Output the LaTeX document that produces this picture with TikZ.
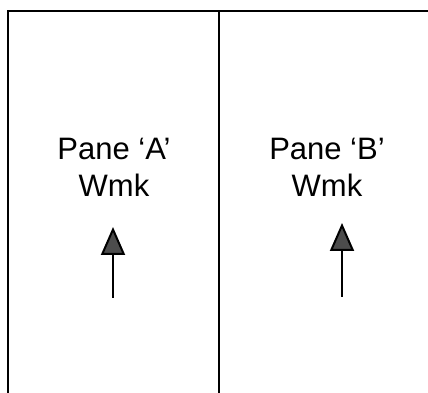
\documentclass[tikz,border=0pt]{standalone}
\usepackage{fontspec}
\setmainfont{Liberation Sans}
\usetikzlibrary{arrows.meta}

\tikzset{
  panelabel/.style={align=center, inner sep=0pt, anchor=base,
    font=\fontsize{31}{37}\selectfont},
  frameline/.style={line width=2.6pt},
  wmkarrow/.style={line width=2pt, -{Triangle[length=28pt,width=24pt,fill=black!70]}}
}

\begin{document}
\begin{tikzpicture}[x=1pt,y=1pt]
        \useasboundingbox (0,0) rectangle (428,393);

        % Rahmen
        \draw[frameline] (8,0) -- (8,382) -- (428,382);
        \draw[frameline] (219,0) -- (219,382);

        % Beschriftung
        \node[panelabel] (paneA) at (114,196) {Pane `A'\\Wmk};
        \node[panelabel] (paneB) at (327,196) {Pane `B'\\Wmk};

        % Pfeile
        \coordinate (tailA) at (113,95);
        \coordinate (tipA) at (113,166);
        \coordinate (tailB) at (342,96);
        \coordinate (tipB) at (342,170);
        \draw[wmkarrow] (tailA) -- (tipA);
        \draw[wmkarrow] (tailB) -- (tipB);
\end{tikzpicture}
\end{document}
